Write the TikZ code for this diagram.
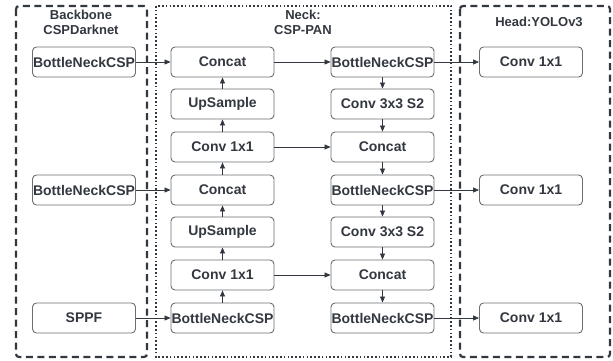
\documentclass[tikz,border=0pt]{standalone}
\usepackage{fontspec}
\setmainfont{Liberation Sans}
\usetikzlibrary{arrows.meta}
\definecolor{ink}{HTML}{333840}
\definecolor{edge}{HTML}{6A6E73}
\tikzset{
  blk/.style={draw=edge, line width=0.9pt, rounded corners=4pt, fill=white,
    minimum width=103pt, minimum height=30pt, inner sep=0pt,
    font=\bfseries\fontsize{14}{16}\selectfont, text=ink},
  flow/.style={draw=ink, line width=0.7pt, -{Triangle[length=6pt,width=5pt]}},
  ttl/.style={font=\bfseries\fontsize{13}{15}\selectfont, text=ink, align=center, inner sep=0pt},
  grp/.style={draw=ink, line width=2.2pt, rounded corners=3pt}
}
\begin{document}
\begin{tikzpicture}[x=1pt,y=-1pt]
\useasboundingbox (0,0) rectangle (613,360);
% group frames
\draw[grp, dash pattern=on 7pt off 4.5pt] (16,6) rectangle (147,357);
\draw[draw=ink, line width=1.6pt, dash pattern=on 1.6pt off 2.2pt] (156,6) rectangle (451,357);
\draw[grp, dash pattern=on 7pt off 4.5pt] (460,6) rectangle (610,357);
\node[ttl] (tb) at (81,22) {Backbone\\CSPDarknet};
\node[ttl] (tn) at (303,22) {Neck:\\CSP-PAN};
\node[ttl] (th) at (539,22) {Head:YOLOv3};
% backbone
\node[blk] (b1) at (84,62) {BottleNeckCSP};
\node[blk] (b2) at (84,190) {BottleNeckCSP};
\node[blk] (b3) at (84,318) {SPPF};
% neck, upward path
\node[blk] (u1) at (222.5,62) {Concat};
\node[blk] (u2) at (222.5,104) {UpSample};
\node[blk] (u3) at (222.5,147) {Conv 1x1};
\node[blk] (u4) at (222.5,190) {Concat};
\node[blk] (u5) at (222.5,232) {UpSample};
\node[blk] (u6) at (222.5,275) {Conv 1x1};
\node[blk] (u7) at (222.5,318) {BottleNeckCSP};
% neck, downward path
\node[blk] (d1) at (382.5,62) {BottleNeckCSP};
\node[blk] (d2) at (382.5,104) {Conv 3x3 S2};
\node[blk] (d3) at (382.5,147) {Concat};
\node[blk] (d4) at (382.5,190) {BottleNeckCSP};
\node[blk] (d5) at (382.5,232) {Conv 3x3 S2};
\node[blk] (d6) at (382.5,275) {Concat};
\node[blk] (d7) at (382.5,318) {BottleNeckCSP};
% head
\node[blk] (h1) at (531,62) {Conv 1x1};
\node[blk] (h2) at (531,190) {Conv 1x1};
\node[blk] (h3) at (531,318) {Conv 1x1};
% connections
\draw[flow] (b1) -- (u1);
\draw[flow] (b2) -- (u4);
\draw[flow] (b3) -- (u7);
\draw[flow] (u7) -- (u6);
\draw[flow] (u6) -- (u5);
\draw[flow] (u5) -- (u4);
\draw[flow] (u4) -- (u3);
\draw[flow] (u3) -- (u2);
\draw[flow] (u2) -- (u1);
\draw[flow] (u1) -- (d1);
\draw[flow] (u3) -- (d3);
\draw[flow] (u6) -- (d6);
\draw[flow] (d1) -- (d2);
\draw[flow] (d2) -- (d3);
\draw[flow] (d3) -- (d4);
\draw[flow] (d4) -- (d5);
\draw[flow] (d5) -- (d6);
\draw[flow] (d6) -- (d7);
\draw[flow] (d1) -- (h1);
\draw[flow] (d4) -- (h2);
\draw[flow] (d7) -- (h3);
\end{tikzpicture}
\end{document}
